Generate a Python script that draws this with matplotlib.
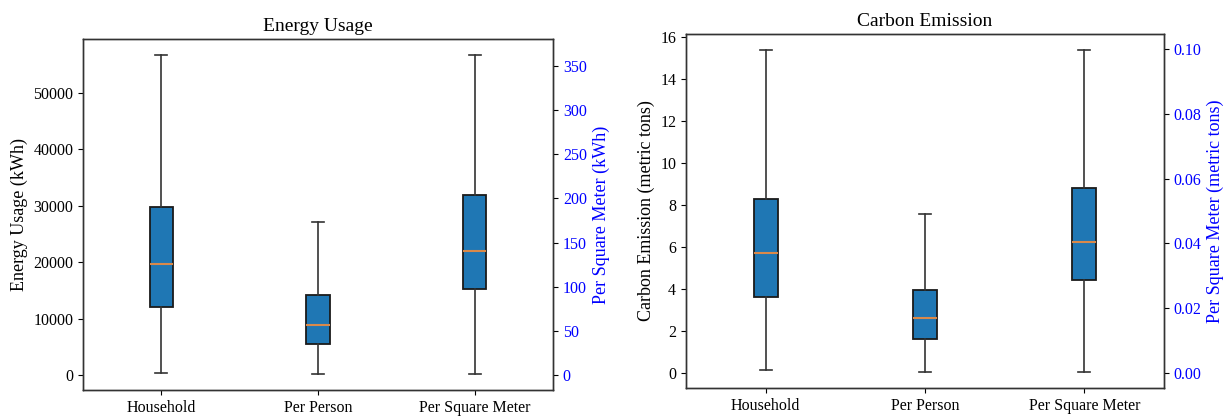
import matplotlib
matplotlib.use("Agg")
import matplotlib.pyplot as plt

plt.rcParams["font.family"] = ["Liberation Serif", "DejaVu Serif"]
plt.rcParams["axes.edgecolor"] = "#333333"
plt.rcParams["axes.linewidth"] = 1.0

# ================= DATA ================= #
categories = ["Household", "Per Person", "Per Square Meter"]

# energy usage (kWh): whislo, q1, med, q3, whishi
energy_household = [350, 12060, 19680, 29790, 56740]
energy_person = [180, 5500, 8870, 14180, 27130]
energy_sqm = [1.1, 97.4, 140.5, 203.9, 362.5]

# carbon emission (metric tons)
carbon_household = [0.14, 3.60, 5.73, 8.28, 15.40]
carbon_person = [0.05, 1.60, 2.60, 3.98, 7.60]
carbon_sqm = [0.0003, 0.0288, 0.0405, 0.0570, 0.0997]

energy_ticks_right = [0, 50, 100, 150, 200, 250, 300, 350]
carbon_ticks_left = [0, 2, 4, 6, 8, 10, 12, 14, 16]
carbon_ticks_right = [0.00, 0.02, 0.04, 0.06, 0.08, 0.10]


def stats(vals, label):
    lo, q1, med, q3, hi = vals
    return dict(whislo=lo, q1=q1, med=med, q3=q3, whishi=hi, label=label, fliers=[])


BOX = dict(facecolor="#1f77b4", edgecolor="#1a1a1a", linewidth=1.3)
MED = dict(color="#d9894a", linewidth=1.5)
WHISK = dict(color="#333333", linewidth=1.2)


def draw_panel(ax, left_vals, right_vals, title, ylabel, rlabel):
    ax.bxp([stats(left_vals[0], categories[0]), stats(left_vals[1], categories[1])],
           positions=[1, 2], widths=0.15, patch_artist=True, showfliers=False,
           boxprops=BOX, medianprops=MED, whiskerprops=WHISK, capprops=WHISK)
    ax2 = ax.twinx()
    ax2.bxp([stats(right_vals, categories[2])],
            positions=[3], widths=0.15, patch_artist=True, showfliers=False,
            boxprops=BOX, medianprops=MED, whiskerprops=WHISK, capprops=WHISK)
    ax.set_xlim(0.5, 3.5)
    ax2.set_xlim(0.5, 3.5)
    ax.set_xticks([1, 2, 3])
    ax.set_xticklabels(categories, fontsize=11.5)
    ax.set_title(title, fontsize=14)
    ax.set_ylabel(ylabel, fontsize=13)
    ax.tick_params(axis="y", labelsize=11.5)
    ax2.set_ylabel(rlabel, fontsize=13, color="blue")
    ax2.tick_params(axis="y", labelsize=11.5, labelcolor="blue")
    return ax2


fig = plt.figure(figsize=(12.26, 4.17), dpi=100)
ax_e = fig.add_axes([0.0677, 0.0647, 0.3834, 0.8417])
ax_c = fig.add_axes([0.5595, 0.0695, 0.3899, 0.849])

ax_e2 = draw_panel(ax_e, [energy_household, energy_person], energy_sqm,
                   "Energy Usage", "Energy Usage (kWh)", "Per Square Meter (kWh)")
ax_e2.set_yticks(energy_ticks_right)

ax_c2 = draw_panel(ax_c, [carbon_household, carbon_person], carbon_sqm,
                   "Carbon Emission", "Carbon Emission (metric tons)",
                   "Per Square Meter (metric tons)")
ax_c.set_yticks(carbon_ticks_left)
ax_c2.set_yticks(carbon_ticks_right)
ax_c2.set_yticklabels([f"{t:.2f}" for t in carbon_ticks_right])

fig.savefig("out.png", dpi=100)
